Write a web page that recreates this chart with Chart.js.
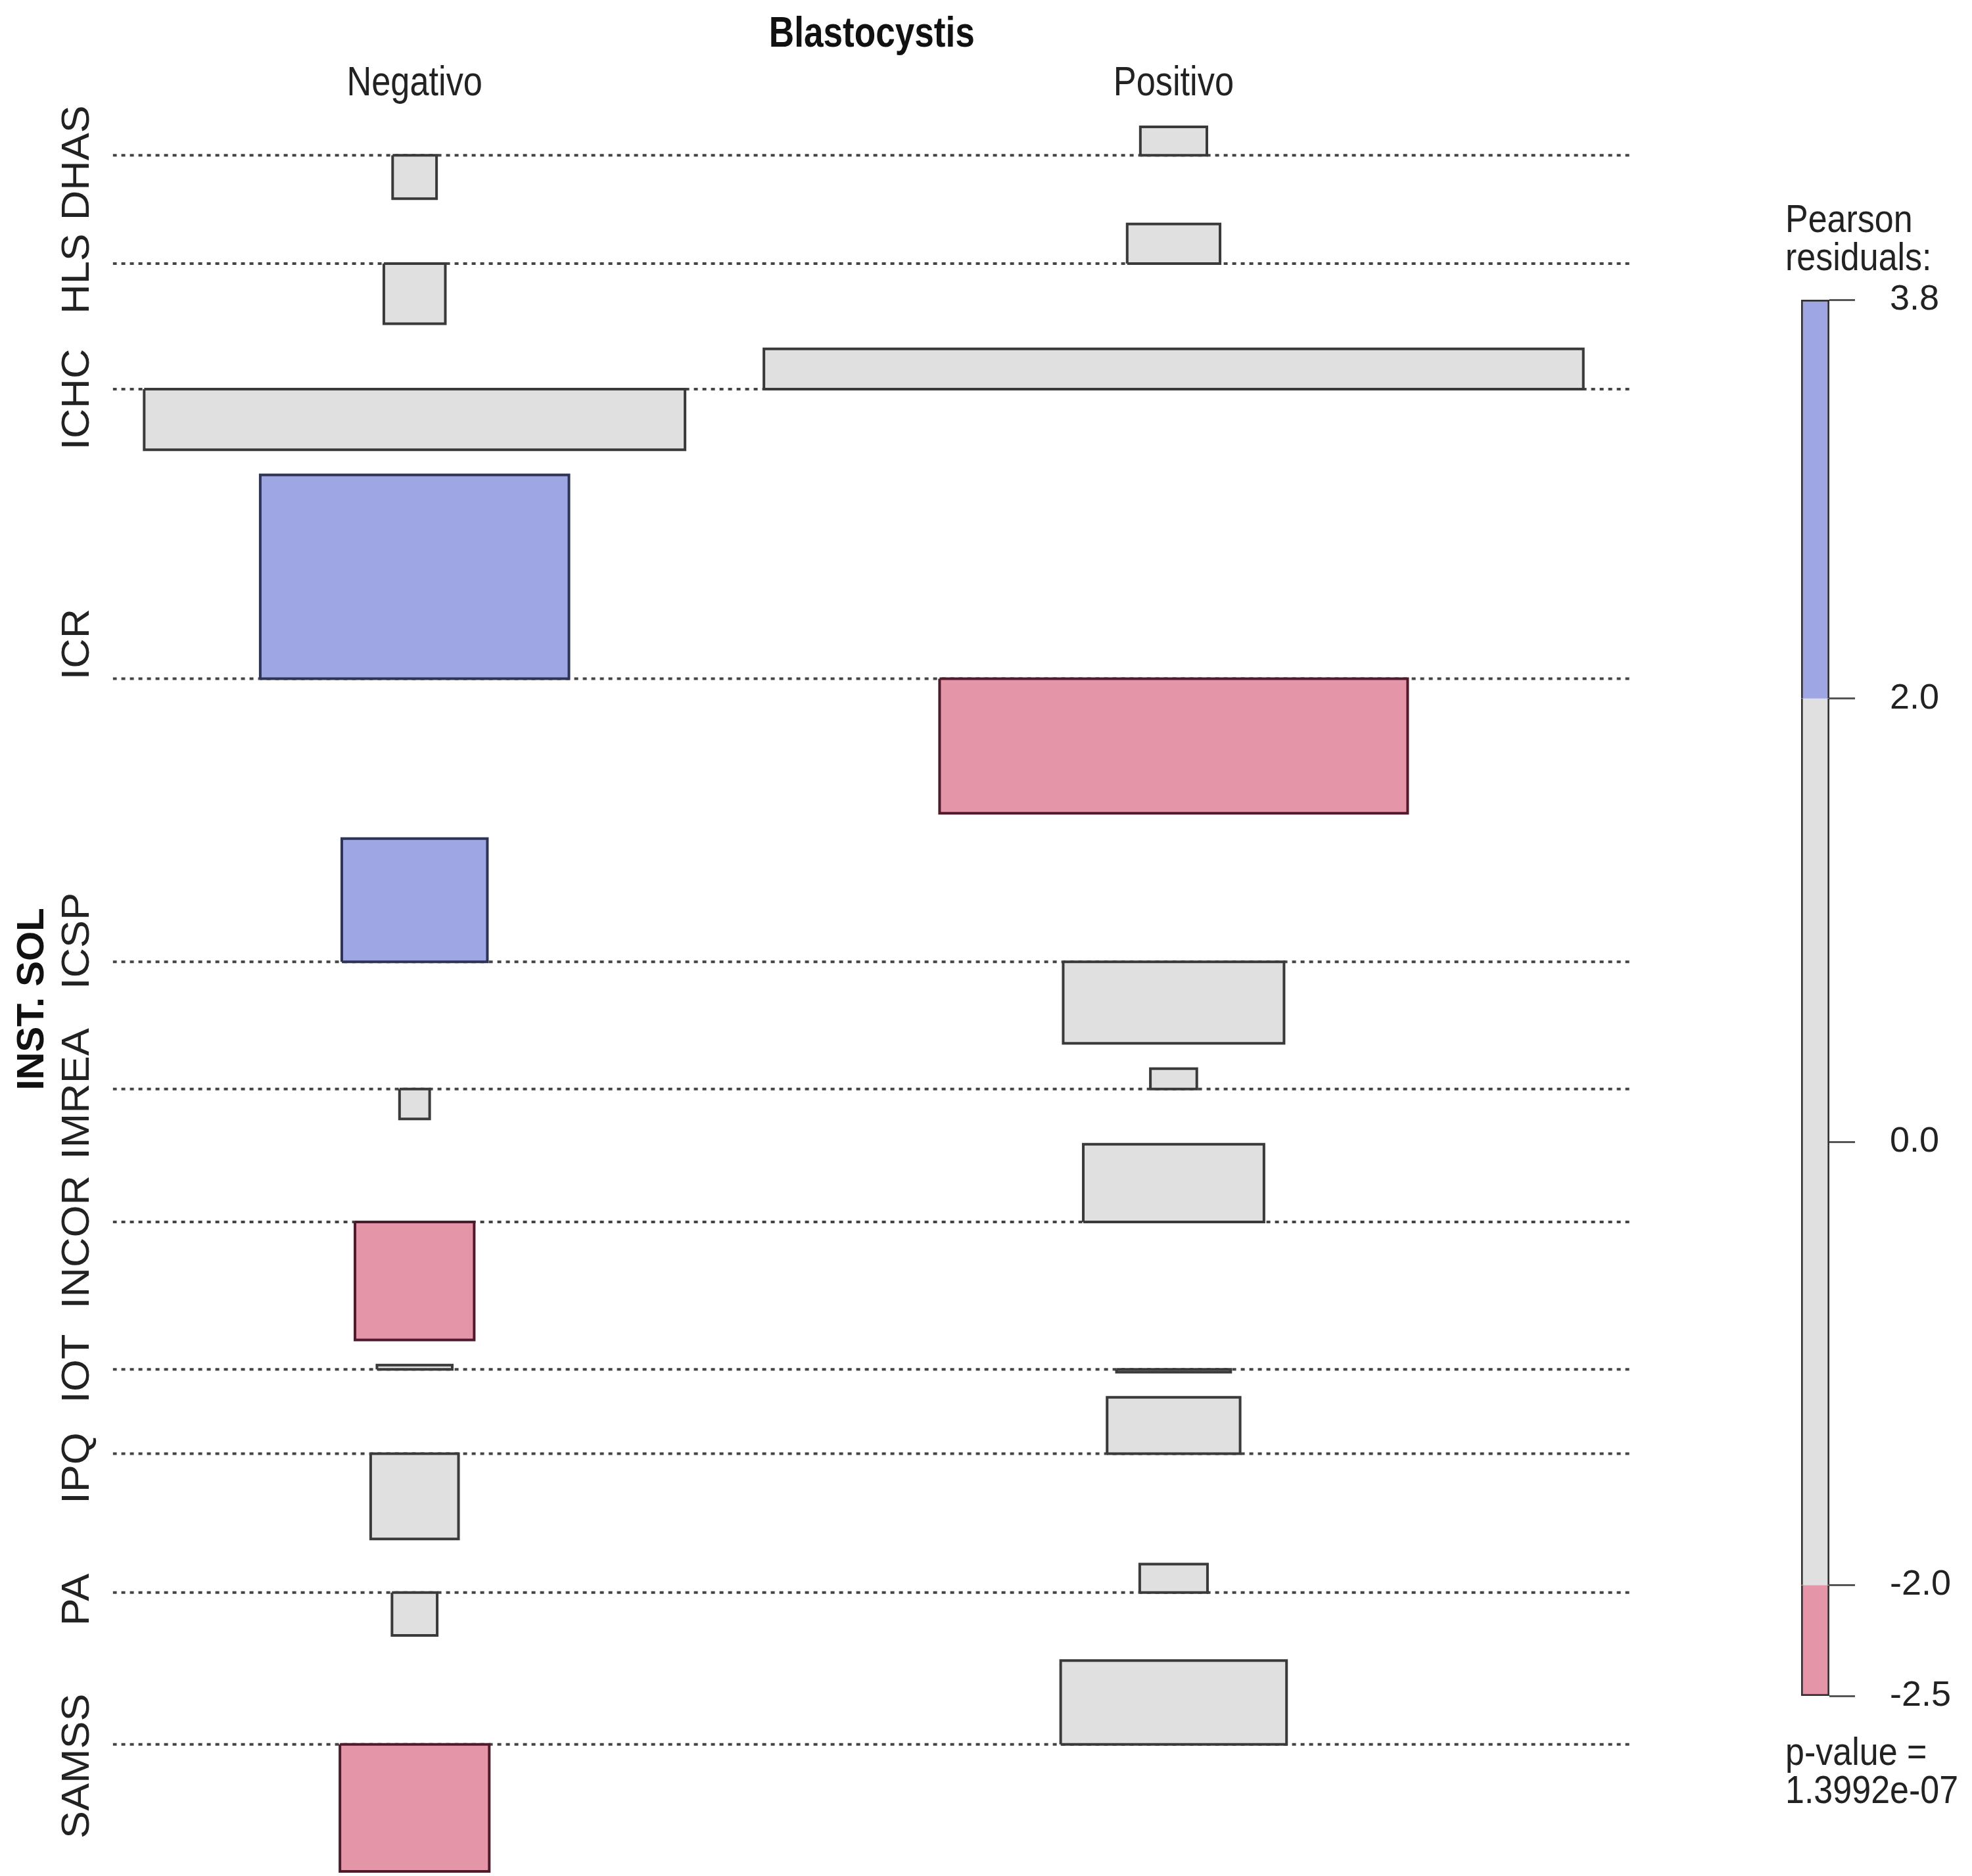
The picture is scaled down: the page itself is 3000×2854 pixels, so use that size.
<!DOCTYPE html>
<html>
<head>
<meta charset="utf-8">
<title>Blastocystis x INST. SOL</title>
<script src="https://cdn.jsdelivr.net/npm/chart.js@4.4.1/dist/chart.umd.min.js"></script>
<style>
  html, body { margin: 0; padding: 0; background: #fff; }
  #wrap { position: relative; width: 3000px; height: 2854px; }
  #assoc { position: absolute; left: 0; top: 0; }
  #legend { position: absolute; left: 2600px; top: 0; }
</style>
</head>
<body>
<div id="wrap">
  <canvas id="assoc" width="3000" height="2854"></canvas>
  <canvas id="legend" width="400" height="2854"></canvas>
</div>
<script>
// association plot: INST. SOL (rows) x Blastocystis (columns)
const title = 'Blastocystis'
const rowLabels = ['DHAS', 'HLS', 'ICHC', 'ICR', 'ICSP', 'IMREA', 'INCOR', 'IOT', 'IPQ', 'PA', 'SAMSS']
const columns = ['Negativo', 'Positivo']

// Pearson residuals (box heights)
const residNeg = [-0.81, -1.12, -1.13, 3.80, 2.30, -0.56, -2.20, 0.08, -1.59, -0.80, -2.37]
const residPos = [0.53, 0.74, 0.75, -2.51, -1.52, 0.38, 1.45, -0.05, 1.05, 0.53, 1.56]

// sqrt(expected) in relative units (box widths)
const widthNeg = [3.5, 4.9, 43.1, 24.6, 11.6, 2.4, 9.5, 6.0, 7.0, 3.6, 11.9]
const widthPos = [5.3, 7.4, 65.3, 37.3, 17.6, 3.7, 14.4, 9.1, 10.6, 5.4, 18.0]

// legend
const legendTicks = [-2.5, -2.0, 0.0, 2.0, 3.8]
const shadeCuts = [-2.5, -2, 2, 3.8]
const pValue = '1.3992e-07'

const sans = "'Liberation Sans', Arial, sans-serif"

const fills = { blue: '#9ea7e3', gray: '#e0e0e0', red: '#e496a8' }
const edges = { blue: '#2e3454', gray: '#3a3a3a', red: '#4f1b2c' }

function shade (r) {
  if (r > 2) return 'blue'
  if (r < -2) return 'red'
  return 'gray'
}

// row layout (in residual units), rows stacked top to bottom
const rowGap = 0.47
const rows = []
let cursor = 0
for (let i = 0; i < rowLabels.length; i++) {
  const up = Math.max(0, residNeg[i], residPos[i])
  const down = Math.max(0, -residNeg[i], -residPos[i])
  const base = cursor + up
  rows.push({ top: cursor, base: base, bottom: base + down })
  cursor = base + down + rowGap
}
const yMax = rows[rows.length - 1].bottom

// column layout (in width units)
const colPad = 1.116
const cellNeg = Math.max(...widthNeg) * colPad
const cellPos = Math.max(...widthPos) * colPad
const centers = [cellNeg / 2, cellNeg + cellPos / 2]
const xMax = cellNeg + cellPos

function box (cx, w, base, r) {
  const x0 = cx - w / 2
  const x1 = cx + w / 2
  const y1 = base - r
  return [
    { x: x0, y: base }, { x: x1, y: base }, { x: x1, y: y1 }, { x: x0, y: y1 }, { x: x0, y: base }
  ]
}

const datasets = []
rows.forEach(function (row, i) {
  [[residNeg, widthNeg], [residPos, widthPos]].forEach(function (col, j) {
    const r = col[0][i]
    const s = shade(r)
    datasets.push({
      data: box(centers[j], col[1][i], row.base, r),
      showLine: true,
      fill: 'shape',
      backgroundColor: fills[s],
      borderColor: edges[s],
      borderWidth: 4,
      borderJoinStyle: 'miter',
      pointRadius: 0,
      tension: 0,
      clip: false,
      order: 0
    })
  })
  datasets.push({
    data: [{ x: 0, y: row.base }, { x: xMax, y: row.base }],
    showLine: true,
    fill: false,
    borderColor: '#444',
    borderWidth: 4,
    borderDash: [6, 7],
    pointRadius: 0,
    order: 1
  })
})

// narrow text like the original device: squeeze horizontally
function squeezed (ctx, text, x, y, sx, sy) {
  ctx.save()
  ctx.translate(x, y)
  ctx.scale(sx, sy)
  ctx.fillText(text, 0, 0)
  ctx.restore()
}

const labelPlugin = {
  id: 'assocLabels',
  afterDraw: function (chart) {
    const ctx = chart.ctx
    const area = chart.chartArea
    const x = chart.scales.x
    const y = chart.scales.y
    ctx.save()
    ctx.textAlign = 'center'
    ctx.textBaseline = 'alphabetic'

    // variable name and column levels
    ctx.fillStyle = '#111'
    ctx.font = 'bold 64px ' + sans
    squeezed(ctx, title, (area.left + area.right) / 2, area.top - 122, 0.83, 1)
    ctx.fillStyle = '#222'
    ctx.font = '63px ' + sans
    columns.forEach(function (c, j) {
      squeezed(ctx, c, x.getPixelForValue(centers[j]), area.top - 48, 0.83, 1)
    })

    // row levels, rotated
    ctx.font = '60px ' + sans
    rows.forEach(function (row, i) {
      const yc = y.getPixelForValue((row.top + row.bottom) / 2)
      ctx.save()
      ctx.translate(area.left - 37, yc)
      ctx.rotate(-Math.PI / 2)
      ctx.scale(1.05, 1)
      ctx.fillText(rowLabels[i], 0, 0)
      ctx.restore()
    })
    ctx.restore()
  }
}

new Chart(document.getElementById('assoc'), {
  type: 'scatter',
  data: { datasets: datasets },
  options: {
    responsive: false,
    devicePixelRatio: 1,
    animation: false,
    events: [],
    layout: { padding: { left: 0, right: 519, top: 193, bottom: 7 } },
    plugins: {
      legend: { display: false },
      tooltip: { enabled: false }
    },
    scales: {
      x: {
        type: 'linear',
        display: false,
        min: 0,
        max: xMax
      },
      y: {
        type: 'linear',
        position: 'left',
        reverse: true,
        min: 0,
        max: yMax,
        ticks: { display: false },
        grid: { display: false, drawTicks: false },
        border: { display: false },
        title: {
          display: true,
          text: 'INST. SOL',
          color: '#111',
          font: { family: sans, size: 58, weight: 'bold' },
          padding: { top: 15, bottom: 87 }
        }
      }
    }
  },
  plugins: [labelPlugin]
})

// shading legend
const bands = []
for (let k = 0; k < shadeCuts.length - 1; k++) {
  const lo = shadeCuts[k]
  const hi = shadeCuts[k + 1]
  const s = shade((lo + hi) / 2)
  bands.push({
    data: [[lo, hi]],
    backgroundColor: fills[s],
    borderColor: '#333',
    borderWidth: {
      left: 3,
      right: 3,
      top: k === shadeCuts.length - 2 ? 3 : 0,
      bottom: k === 0 ? 3 : 0
    },
    borderSkipped: false,
    grouped: false,
    barPercentage: 1,
    categoryPercentage: 1
  })
}

const legendTextPlugin = {
  id: 'legendText',
  afterDraw: function (chart) {
    const ctx = chart.ctx
    const area = chart.chartArea
    const x = area.left - 24
    const lines = [
      ['Pearson', area.top - 103],
      ['residuals:', area.top - 45],
      ['p-value =', area.bottom + 105],
      [pValue, area.bottom + 163]
    ]
    ctx.save()
    ctx.fillStyle = '#222'
    ctx.font = '52px ' + sans
    ctx.textAlign = 'left'
    ctx.textBaseline = 'alphabetic'
    lines.forEach(function (l) {
      squeezed(ctx, l[0], x, l[1], 1, 1.15)
    })
    ctx.restore()
  }
}

new Chart(document.getElementById('legend'), {
  type: 'bar',
  data: { labels: [''], datasets: bands },
  options: {
    responsive: false,
    devicePixelRatio: 1,
    animation: false,
    events: [],
    layout: { padding: { left: 140, right: 0, top: 456, bottom: 274 } },
    plugins: {
      legend: { display: false },
      tooltip: { enabled: false }
    },
    scales: {
      x: { display: false },
      y: {
        position: 'right',
        min: shadeCuts[0],
        max: shadeCuts[shadeCuts.length - 1],
        afterBuildTicks: function (scale) {
          scale.ticks = legendTicks.map(function (v) { return { value: v } })
        },
        afterFit: function (scale) { scale.width = 217 },
        ticks: {
          padding: 53,
          color: '#222',
          font: { family: sans, size: 54 },
          callback: function (value) { return Number(value).toFixed(1) }
        },
        grid: { drawOnChartArea: false, drawTicks: true, tickLength: 39, color: '#555', lineWidth: 3 },
        border: { display: false }
      }
    }
  },
  plugins: [legendTextPlugin]
})
</script>
</body>
</html>
